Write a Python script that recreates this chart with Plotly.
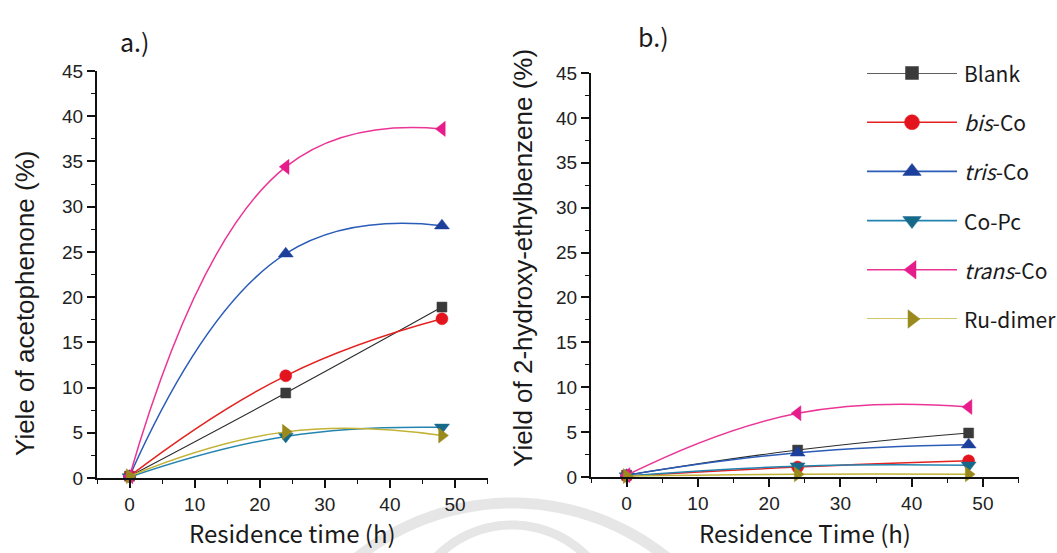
import numpy as np
import plotly.graph_objects as go

# Residence time (h)
time_h = [0, 24, 48]

# Panel a: yield of acetophenone (%)
acet_blank = [0.2, 9.4, 18.9]
acet_bis = [0.2, 11.3, 17.6]
acet_tris = [0.2, 24.8, 27.9]
acet_copc = [0.1, 4.6, 5.6]
acet_trans = [0.2, 34.4, 38.6]
acet_ru = [0.2, 5.1, 4.7]

# Panel b: yield of 2-hydroxy-ethylbenzene (%)
hyd_blank = [0.2, 3.0, 4.9]
hyd_bis = [0.1, 1.1, 1.8]
hyd_tris = [0.2, 2.7, 3.6]
hyd_copc = [0.1, 1.2, 1.3]
hyd_trans = [0.2, 7.1, 7.8]
hyd_ru = [0.1, 0.3, 0.3]

series_names = ["Blank", "<i>bis</i>-Co", "<i>tris</i>-Co", "Co-Pc", "<i>trans</i>-Co", "Ru-dimer"]
panel_a = [acet_blank, acet_bis, acet_tris, acet_copc, acet_trans, acet_ru]
panel_b = [hyd_blank, hyd_bis, hyd_tris, hyd_copc, hyd_trans, hyd_ru]

x_ticks = [0, 10, 20, 30, 40, 50]
y_ticks = [0, 5, 10, 15, 20, 25, 30, 35, 40, 45]

# Styles per series: line colour, marker colour, symbol, marker size, line width
styles = [
    dict(line="#2b2b2b", marker="#3a3a3a", symbol="square", size=10, width=1.1),
    dict(line="#e42320", marker="#e3141e", symbol="circle", size=12, width=1.5),
    dict(line="#2a5cb8", marker="#1c3f9c", symbol="triangle-up", size=13, width=1.5),
    dict(line="#2384b0", marker="#17698a", symbol="triangle-down", size=13, width=1.5),
    dict(line="#ea3596", marker="#e61c8a", symbol="triangle-left", size=13, width=1.5),
    dict(line="#c2b236", marker="#9a8a1e", symbol="triangle-right", size=13, width=1.5),
]

W, H = 1057, 553


def px_x(p):
    return p / W


def px_y(p):
    return 1 - p / H


fig = go.Figure()

for values_list, xa, ya in [(panel_a, "x", "y"), (panel_b, "x2", "y2")]:
    for name, vals, st in zip(series_names, values_list, styles):
        fig.add_trace(go.Scatter(
            x=time_h, y=vals, name=name, xaxis=xa, yaxis=ya,
            mode="lines+markers", showlegend=False, cliponaxis=False,
            line=dict(color=st["line"], width=st["width"], shape="spline", smoothing=1.3),
            marker=dict(color=st["marker"], symbol=st["symbol"], size=st["size"],
                        line=dict(color=st["marker"], width=0.5)),
        ))

# Legend drawn on its own small axis: one sample row per series
legend_rows = list(range(len(series_names)))
for row, name, st in zip(legend_rows, series_names, styles):
    fig.add_trace(go.Scatter(
        x=[0, 1], y=[row, row], xaxis="x3", yaxis="y3", mode="lines",
        showlegend=False, hoverinfo="skip", cliponaxis=False,
        line=dict(color=st["line"], width=1.6),
    ))
    fig.add_trace(go.Scatter(
        x=[0.5], y=[row], xaxis="x3", yaxis="y3", mode="markers",
        showlegend=False, hoverinfo="skip", cliponaxis=False,
        marker=dict(color=st["marker"], symbol=st["symbol"], size=st["size"] + 3,
                    line=dict(color=st["marker"], width=0.5)),
    ))

tick_font = dict(family="Liberation Sans, Arial, sans-serif", size=19, color="#222222")
axis_common = dict(
    showline=True, linecolor="#111111", linewidth=2,
    ticks="outside", ticklen=8, tickwidth=1.6, tickcolor="#111111",
    showgrid=False, zeroline=False, tickfont=tick_font, automargin=False,
)
minor_x = dict(dtick=5, tick0=-5, ticklen=4, tickwidth=1.4, tickcolor="#111111", ticks="outside")
minor_y = dict(dtick=2.5, ticklen=4, tickwidth=1.4, tickcolor="#111111", ticks="outside")

fig.update_layout(
    width=W, height=H, autosize=False,
    margin=dict(l=0, r=0, t=0, b=0, pad=0, autoexpand=False),
    paper_bgcolor="white", plot_bgcolor="rgba(0,0,0,0)",
    xaxis=dict(domain=[px_x(97), px_x(487.5)], range=[-5, 55], anchor="y",
               tickvals=x_ticks, minor=minor_x, **axis_common),
    yaxis=dict(domain=[px_y(478), px_y(71)], range=[0, 45], anchor="x",
               tickvals=y_ticks, minor=minor_y, **axis_common),
    xaxis2=dict(domain=[px_x(591), px_x(1018.5)], range=[-5, 55], anchor="y2",
                tickvals=x_ticks, minor=minor_x, **axis_common),
    yaxis2=dict(domain=[px_y(477), px_y(73)], range=[0, 45], anchor="x2",
                tickvals=y_ticks, minor=minor_y, **axis_common),
    xaxis3=dict(domain=[px_x(867), px_x(957)], range=[0, 1], visible=False,
                anchor="y3", automargin=False),
    yaxis3=dict(domain=[px_y(319), px_y(73)], range=[5, 0], visible=False,
                anchor="x3", automargin=False),
)

label_font = dict(family="Noto Sans CJK KR, Noto Sans, sans-serif", color="#1a1a1a")
ytitle_font = dict(family="Liberation Sans, Arial, sans-serif", size=26, color="#1a1a1a")

annotations = [
    dict(text="a.)", x=px_x(118), y=px_y(41), xanchor="left", yanchor="middle",
         font=dict(size=25, **label_font)),
    dict(text="b.)", x=px_x(636), y=px_y(36), xanchor="left", yanchor="middle",
         font=dict(size=25, **label_font)),
    dict(text="Residence time (h)", x=px_x(292), y=px_y(532), xanchor="center", yanchor="middle",
         font=dict(size=24, **label_font)),
    dict(text="Residence Time (h)", x=px_x(805), y=px_y(532), xanchor="center", yanchor="middle",
         font=dict(size=24, **label_font)),
    dict(text="Yiele of acetophenone (%)", x=px_x(25), y=px_y(304), textangle=-90,
         xanchor="center", yanchor="middle", font=ytitle_font),
    dict(text="Yield of 2-hydroxy-ethylbenzene (%)", x=px_x(523), y=px_y(258), textangle=-90,
         xanchor="center", yanchor="middle", font=ytitle_font),
]
for row, name in zip(legend_rows, series_names):
    annotations.append(dict(text=name, x=px_x(962), y=row, xref="paper", yref="y3",
                            xanchor="left", yanchor="middle",
                            font=dict(size=21, **label_font)))
for a in annotations:
    a.setdefault("xref", "paper")
    a.setdefault("yref", "paper")
    a["showarrow"] = False
fig.update_layout(annotations=annotations)

# Faint circular watermark bands behind the plots
shapes = []
for cx, cy, r, w in [(512, 750, 247, 11), (512, 630, 105, 9)]:
    t = np.linspace(np.pi * 1.02, np.pi * 1.98, 160)
    xs = cx + r * np.cos(t)
    ys = cy + r * np.sin(t)
    path = "M " + " L ".join(f"{px_x(a):.5f},{px_y(b):.5f}" for a, b in zip(xs, ys))
    shapes.append(dict(type="path", path=path, xref="paper", yref="paper",
                       line=dict(color="#e6e6e6", width=w), layer="below"))
fig.update_layout(shapes=shapes)

fig.write_html("out.html", config={"responsive": False})
